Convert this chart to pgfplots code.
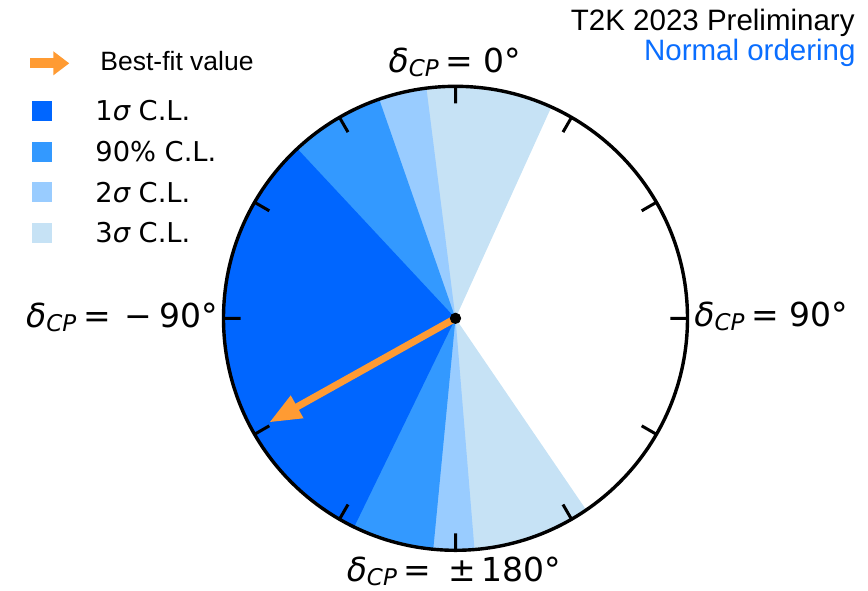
\documentclass[border=0pt]{standalone}
\usepackage{pgfplots}
\pgfplotsset{compat=1.18}
\usepackage{pgfplotstable}
\usepgfplotslibrary{polar}
\usetikzlibrary{arrows.meta}
\usepackage{fontspec}
\setmainfont{Liberation Sans}
\newfontfamily\dv{DejaVu Sans}

\definecolor{cone}{RGB}{0,102,255}
\definecolor{cninety}{RGB}{51,153,255}
\definecolor{ctwo}{RGB}{153,204,255}
\definecolor{cthree}{RGB}{198,226,245}
\definecolor{bfit}{RGB}{255,155,51}
\definecolor{notext}{RGB}{10,110,255}

% delta_CP set like matplotlib mathtext (DejaVu Sans oblique)
\newcommand\dcp{{\dv\itshape δ\raisebox{-2pt}{\fontsize{11.5pt}{12pt}\selectfont CP}}}
\newcommand\lab{\dv\fontsize{16.5pt}{18pt}\selectfont}

% allowed intervals, delta_CP in degrees; r=2 lies outside the circle and gets clipped
\pgfplotstableread{
d r
0 0
-214.3 2
-135 2
-55 2
24.4 2
}\threesig
\pgfplotstableread{
d r
0 0
-184.7 2
-96 2
-7.2 2
}\twosig
\pgfplotstableread{
d r
0 0
-174.5 2
-97 2
-19.2 2
}\ninety
\pgfplotstableread{
d r
0 0
-154.1 2
-43.0 2
}\onesig
\pgfplotstableread{
d r
0 0
-119.2 0.92
}\bestfit

\begin{document}
\begin{tikzpicture}
\path[use as bounding box] (0,0) rectangle (434pt,-295pt);
\begin{polaraxis}[
  at={(227.75pt,-159.15pt)}, anchor=center,
  scale only axis, width=232pt, height=232pt,
  xmin=0, xmax=360, ymin=0, ymax=1,
  xtick={0,30,...,330}, xticklabels={},
  ytick=\empty,
  grid=none,
  axis on top,
  x axis line style={line width=1.7pt},
  y axis line style={draw=none},
  major tick length=8.5pt,
  every major tick/.append style={line width=1.5pt, black},
  xtick style={line width=1.5pt, black},
  xtick align=outside,
]
\addplot[fill=cthree, draw=none] table[x expr=90-\thisrow{d}, y=r] {\threesig};
\addplot[fill=ctwo, draw=none] table[x expr=90-\thisrow{d}, y=r] {\twosig};
\addplot[fill=cninety, draw=none] table[x expr=90-\thisrow{d}, y=r] {\ninety};
\addplot[fill=cone, draw=none] table[x expr=90-\thisrow{d}, y=r] {\onesig};
\addplot[bfit, line width=3.5pt, -{Triangle[length=16pt,width=12pt]}]
  table[x expr=90-\thisrow{d}, y=r] {\bestfit};
\addplot[only marks, mark=*, mark size=2.6pt, black] coordinates {(0,0)};
\end{polaraxis}

\begin{scope}[x=0.5pt,y=-0.5pt]
% labels of the dial
\node[anchor=base, inner sep=0, font=\lab] at (455,72) {\dcp\hspace{3.5pt}= 0°};
\node[anchor=base, inner sep=0, font=\lab] at (454,581.7) {\dcp\hspace{3.5pt}= \hspace{3pt}±\hspace{3pt}180°};
\node[anchor=base east, inner sep=0, font=\lab] at (218,327) {\dcp\hspace{3.5pt}= \hspace{1.5pt}−\hspace{3.5pt}90°};
\node[anchor=base west, inner sep=0, font=\lab] at (694,326.7) {\dcp\hspace{3.5pt}= 90°};

% legend
\draw[bfit, line width=5pt, -{Triangle[length=8pt,width=11.5pt]}] (30,63.3) -- (69.3,63.3);
\node[anchor=base west, inner sep=0, font=\fontsize{13.25pt}{15pt}\selectfont] at (100,70.7) {Best-fit value};
\fill[cone] (32,100.7) rectangle (52,120.7);
\fill[cninety] (32,141.7) rectangle (52,161.7);
\fill[ctwo] (32,181.7) rectangle (52,201.7);
\fill[cthree] (32,222.7) rectangle (52,242.7);
\begin{scope}[every node/.style={anchor=base west, inner sep=0, font=\dv\fontsize{13.65pt}{15pt}\selectfont}]
\node at (95,120.7) {1{\itshape σ} C.L.};
\node at (95,161.7) {90\% C.L.};
\node at (95,202.3) {2{\itshape σ} C.L.};
\node at (95,242.7) {3{\itshape σ} C.L.};
\end{scope}

% header
\node[anchor=base east, inner sep=0, font=\fontsize{14.75pt}{16pt}\selectfont] at (855,30) {T2K 2023 Preliminary};
\node[anchor=base east, inner sep=0, font=\fontsize{14.75pt}{16pt}\selectfont, text=notext] at (856,60) {Normal ordering};
\end{scope}
\end{tikzpicture}
\end{document}
